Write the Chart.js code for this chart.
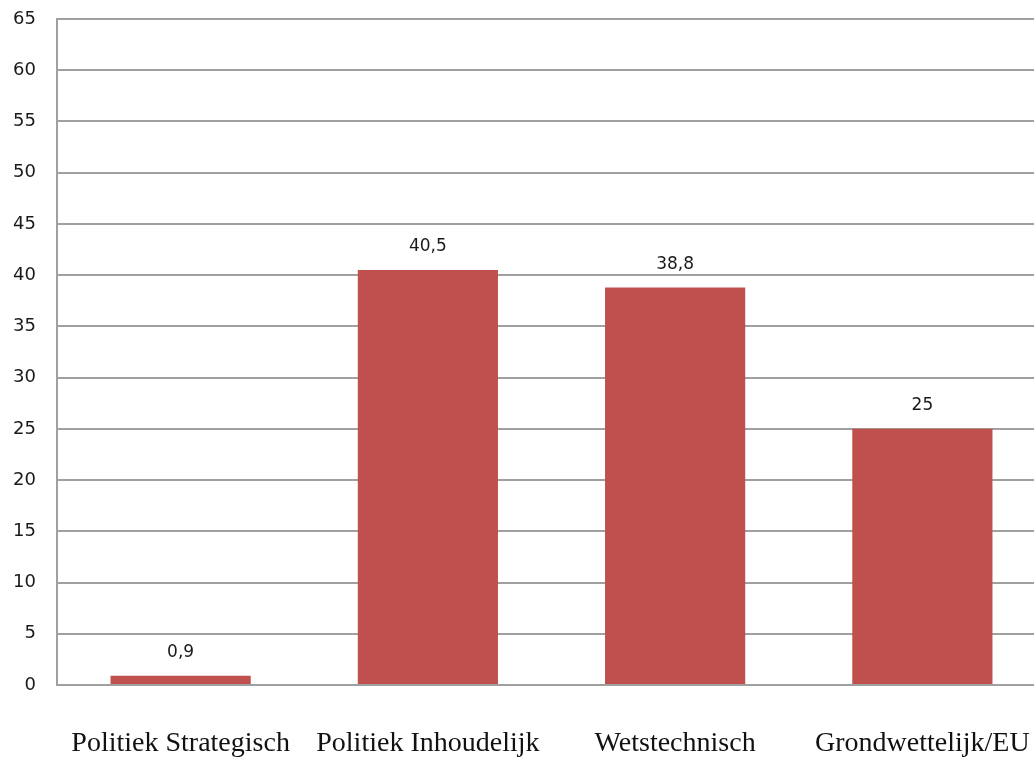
<!DOCTYPE html>
<html>
<head>
<meta charset="utf-8">
<script src="https://cdn.jsdelivr.net/npm/chart.js@4/dist/chart.umd.min.js"></script>
<style>
  html, body { margin: 0; padding: 0; background: #fff; overflow: hidden; }
</style>
</head>
<body>
<canvas id="chart" width="1046" height="758"></canvas>
<script>
const categories = ['Politiek Strategisch', 'Politiek Inhoudelijk', 'Wetstechnisch', 'Grondwettelijk/EU']
const values = [0.9, 40.5, 38.8, 25]
const valueLabels = ['0,9', '40,5', '38,8', '25']

// draws the value above each bar, like the datalabels plugin would
const barValues = {
  id: 'barValues',
  afterDatasetsDraw(chart) {
    const ctx = chart.ctx
    const meta = chart.getDatasetMeta(0)
    ctx.save()
    ctx.font = '17px "DejaVu Sans"'
    ctx.fillStyle = '#1a1a1a'
    ctx.textAlign = 'center'
    ctx.textBaseline = 'middle'
    meta.data.forEach((bar, i) => {
      ctx.fillText(valueLabels[i], bar.x, bar.y - 23)
    })
    ctx.restore()
  }
}

const chart = new Chart(document.getElementById('chart'), {
  type: 'bar',
  data: {
    labels: categories,
    datasets: [{
      data: values,
      backgroundColor: '#C0504D',
      barPercentage: 0.567,
      categoryPercentage: 1
    }]
  },
  options: {
    responsive: false,
    animation: false,
    layout: { padding: { top: 19, right: 0, left: 0, bottom: 0 } },
    plugins: { legend: { display: false }, tooltip: { enabled: false } },
    scales: {
      y: {
        min: 0,
        max: 65,
        ticks: {
          stepSize: 5,
          color: '#1a1a1a',
          font: { family: 'DejaVu Sans', size: 18 },
          padding: 21
        },
        grid: { color: '#a0a0a0', lineWidth: 2, drawTicks: false },
        border: { color: '#a0a0a0', width: 2 },
        afterFit: (s) => {
          s.width = 57
          s.paddingTop = 0
          s.paddingBottom = 0
        }
      },
      x: {
        ticks: {
          color: '#111',
          font: { family: 'Liberation Serif', size: 28 },
          padding: 42,
          maxRotation: 0
        },
        grid: { display: false, drawTicks: false },
        border: { color: '#a0a0a0', width: 2 },
        afterFit: (s) => {
          s.height = 73
          s.paddingLeft = 0
          s.paddingRight = 0
        }
      }
    }
  },
  plugins: [barValues]
})
</script>
</body>
</html>
